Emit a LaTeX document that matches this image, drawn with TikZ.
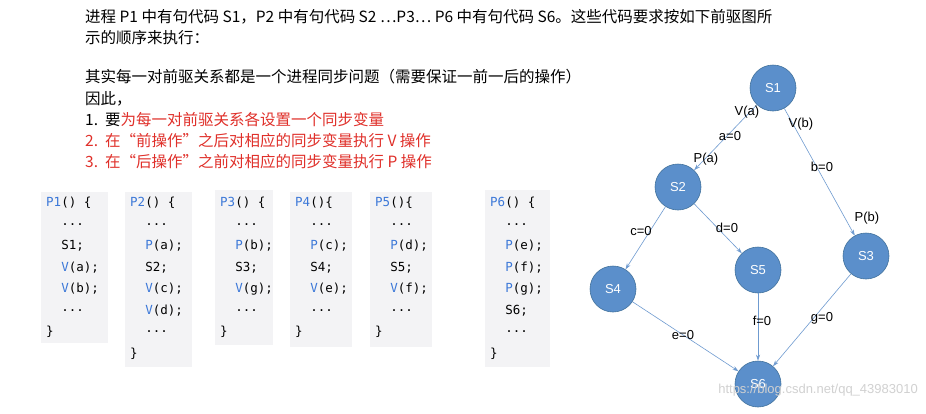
\documentclass[tikz,border=0pt]{standalone}
\usepackage{fontspec}
\setmainfont{Liberation Sans}
\newfontfamily\cjk{Noto Sans CJK SC}
\setmonofont{DejaVu Sans Mono}
\usetikzlibrary{arrows.meta}
\definecolor{nodefill}{HTML}{5B8FCB}
\definecolor{nodeline}{HTML}{41719C}
\definecolor{edgec}{HTML}{6F9BD0}
\definecolor{kw}{HTML}{3C78D8}
\definecolor{codebg}{HTML}{F3F3F5}
\definecolor{redt}{HTML}{E0302A}
\tikzset{
 vert/.style={circle,fill=nodefill,draw=nodeline,line width=0.6pt,minimum size=46pt,inner sep=0,text=white,font=\fontsize{13}{13}\selectfont},
 edge/.style={draw=edgec,line width=0.6pt,-{Stealth[length=6pt,width=4pt]}},
 elab/.style={font=\fontsize{13}{13}\selectfont,inner sep=1pt},
 txt/.style={anchor=west,inner sep=0,font=\cjk\fontsize{15.5}{15.5}\selectfont},
 code/.style={anchor=west,inner sep=0,font=\ttfamily\fontsize{12.5}{12.5}\selectfont},
 bg/.style={fill=codebg,draw=none}
}
\newcommand{\K}[1]{\textcolor{kw}{#1}}
\newcommand{\CL}[4]{\node[code] (#1) at (#2,203+#3*21.5) {#4};}
\newcommand{\DD}{\ \ ...}
\begin{document}
\begin{tikzpicture}[x=1pt,y=-1pt]
\useasboundingbox[fill=white] (0,0) rectangle (926,413);
\node[txt] (t1) at (85,17) {进程 P1 中有句代码 S1，P2 中有句代码 S2 …P3… P6 中有句代码 S6。这些代码要求按如下前驱图所};
\node[txt] (t2) at (85,38) {示的顺序来执行：};
\node[txt] (t3) at (85,77) {其实每一对前驱关系都是一个进程同步问题（需要保证一前一后的操作）};
\node[txt] (t4) at (85,99) {因此，};
\node[txt] (l1) at (85,120) {1.\ \ 要\textcolor{redt}{为每一对前驱关系各设置一个同步变量}};
\node[txt,text=redt] (l2) at (85,141) {2.\ \ 在“前操作”之后对相应的同步变量执行 V 操作};
\node[txt,text=redt] (l3) at (85,162) {3.\ \ 在“后操作”之前对相应的同步变量执行 P 操作};
% code backgrounds
\fill[bg] (41,192) rectangle (108,343);
\fill[bg] (125,192) rectangle (192,367);
\fill[bg] (215,190) rectangle (273,345);
\fill[bg] (290,192) rectangle (352,347);
\fill[bg] (370,192) rectangle (432,347);
\fill[bg] (485,190) rectangle (550,367);
% P1
\CL{a0}{46}{0}{\K{P1}() \{}
\CL{a1}{46}{1}{\DD}
\CL{a2}{46}{2}{\ \ S1;}
\CL{a3}{46}{3}{\ \ \K{V}(a);}
\CL{a4}{46}{4}{\ \ \K{V}(b);}
\CL{a5}{46}{5}{\DD}
\CL{a6}{46}{6}{\}}
% P2
\CL{b0}{130}{0}{\K{P2}() \{}
\CL{b1}{130}{1}{\DD}
\CL{b2}{130}{2}{\ \ \K{P}(a);}
\CL{b3}{130}{3}{\ \ S2;}
\CL{b4}{130}{4}{\ \ \K{V}(c);}
\CL{b5}{130}{5}{\ \ \K{V}(d);}
\CL{b6}{130}{6}{\DD}
\CL{b7}{130}{7}{\}}
% P3
\CL{c0}{220}{0}{\K{P3}() \{}
\CL{c1}{220}{1}{\DD}
\CL{c2}{220}{2}{\ \ \K{P}(b);}
\CL{c3}{220}{3}{\ \ S3;}
\CL{c4}{220}{4}{\ \ \K{V}(g);}
\CL{c5}{220}{5}{\DD}
\CL{c6}{220}{6}{\}}
% P4
\CL{d0}{295}{0}{\K{P4}()\{}
\CL{d1}{295}{1}{\DD}
\CL{d2}{295}{2}{\ \ \K{P}(c);}
\CL{d3}{295}{3}{\ \ S4;}
\CL{d4}{295}{4}{\ \ \K{V}(e);}
\CL{d5}{295}{5}{\DD}
\CL{d6}{295}{6}{\}}
% P5
\CL{e0}{375}{0}{\K{P5}()\{}
\CL{e1}{375}{1}{\DD}
\CL{e2}{375}{2}{\ \ \K{P}(d);}
\CL{e3}{375}{3}{\ \ S5;}
\CL{e4}{375}{4}{\ \ \K{V}(f);}
\CL{e5}{375}{5}{\DD}
\CL{e6}{375}{6}{\}}
% P6
\CL{f0}{490}{0}{\K{P6}() \{}
\CL{f1}{490}{1}{\DD}
\CL{f2}{490}{2}{\ \ \K{P}(e);}
\CL{f3}{490}{3}{\ \ \K{P}(f);}
\CL{f4}{490}{4}{\ \ \K{P}(g);}
\CL{f5}{490}{5}{\ \ S6;}
\CL{f6}{490}{6}{\DD}
\CL{f7}{490}{7}{\}}
% graph
\node[vert] (S1) at (773,88) {S1};
\node[vert] (S2) at (678,187) {S2};
\node[vert] (S3) at (866,256) {S3};
\node[vert] (S4) at (613,289) {S4};
\node[vert] (S5) at (758,270) {S5};
\node[vert] (S6) at (758,384) {S6};
\draw[edge] (S1) -- (S2);
\draw[edge] (S1) -- (S3);
\draw[edge] (S2) -- (S4);
\draw[edge] (S2) -- (S5);
\draw[edge] (S4) -- (S6);
\draw[edge] (S5) -- (S6);
\draw[edge] (S3) -- (S6);
\node[elab] (la) at (747,112) {V(a)};
\node[elab] (lb) at (730,136) {a=0};
\node[elab] (lc) at (706,159) {P(a)};
\node[elab] (ld) at (801,124) {V(b)};
\node[elab] (le) at (822,167) {b=0};
\node[elab] (lf) at (867,218) {P(b)};
\node[elab] (lg) at (641,231) {c=0};
\node[elab] (lh) at (727,228) {d=0};
\node[elab] (li) at (683,335) {e=0};
\node[elab] (lj) at (762,321) {f=0};
\node[elab] (lk) at (822,318) {g=0};
\node[text=black!18,font=\fontsize{13}{13}\selectfont,anchor=east,inner sep=0] (wm) at (918,390) {https://blog.csdn.net/qq\_43983010};
\end{tikzpicture}
\end{document}
